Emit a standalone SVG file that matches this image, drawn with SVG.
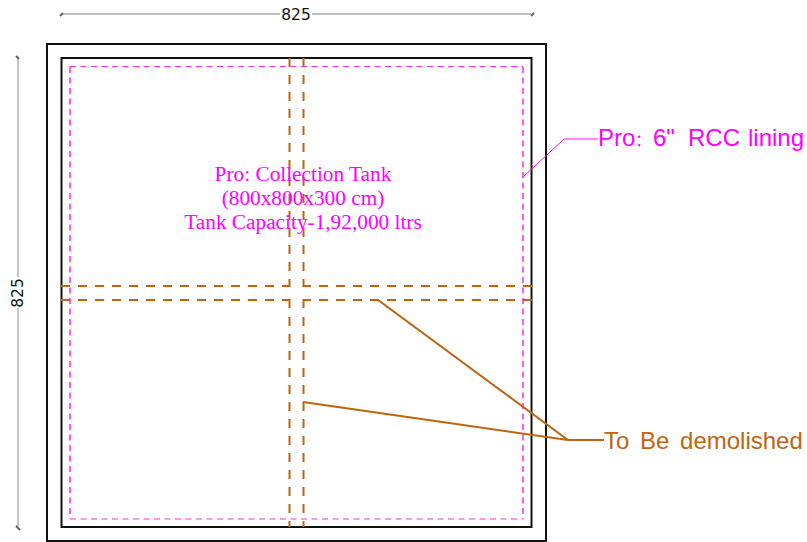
<svg xmlns="http://www.w3.org/2000/svg" width="807" height="542" viewBox="0 0 807 542">
<style>
.wall{fill:none;stroke:#111;stroke-width:2}
.dim{fill:none;stroke:#aaa;stroke-width:1.3}
.tick{fill:none;stroke:#666;stroke-width:2}
.lining-h{fill:none;stroke:#ff2cf0;stroke-width:1.2;stroke-dasharray:6 4.500}
.lining-v{fill:none;stroke:#ff5cf4;stroke-width:2;stroke-dasharray:6 4.500}
.demo{fill:none;stroke:#bf6410;stroke-width:2;stroke-dasharray:9 8}
.leadb{fill:none;stroke:#bf6410;stroke-width:2}
.leadm{fill:none;stroke:#ff14f0;stroke-width:1}
.dt{font-family:"DejaVu Sans",sans-serif;font-size:15.500px;fill:#111;text-anchor:middle}
.sans{font-family:"Liberation Sans","Noto Sans CJK SC",Arial,sans-serif;font-size:24px}
.serif{font-family:"Liberation Serif","Times New Roman",serif;font-size:21.300px;fill:#ff00ff;text-anchor:middle}
</style>
<rect width="807" height="542" fill="#fff"/>
<g id="tank-walls">
<rect class="wall" x="47" y="44" width="499" height="497"/>
<rect class="wall" x="61.500" y="58" width="470" height="469"/>
</g>
<g id="rcc-lining">
<path class="lining-h" d="M70 66.500H523M70 519H523"/>
<path class="lining-v" d="M70 67V519M523 67V519"/>
</g>
<g id="demolished-beams">
<path class="demo" d="M289.500 58V275M303.500 58V275M289.500 317V527M303.500 317V527"/>
<path class="demo" d="M61 286H278M61 300H278M319 286H532M319 300H532"/>
<path class="leadb" d="M282 286H289.500V279M303.500 279V286H311M282 300H289.500V308M303.500 308V300H311"/>
</g>
<g id="connectors">
<path class="leadm" d="M522 178L564 139H598"/>
<path class="leadb" d="M372 300H378L568 440H604M303 402L568 440"/>
</g>
<g id="dim-top">
<path class="dim" d="M62 14H280M312 14H531"/>
<path class="tick" d="M60 16L63 13M531 16L534 13"/>
<text class="dt" x="296" y="20">825</text>
</g>
<g id="dim-left">
<path class="dim" d="M18 58V277M18 308V527"/>
<path class="tick" d="M16 56L19 59M16 526L20 530"/>
<text class="dt" transform="translate(23 293) rotate(-90)">825</text>
</g>
<g id="label-lining"><text class="sans" x="598" y="146" fill="#ff00ff">Pro<tspan font-size="16">：</tspan><tspan x="653">6"</tspan> <tspan x="688">RCC</tspan> <tspan x="748">lining</tspan></text></g>
<g id="label-demolished"><text class="sans" x="604" y="449" fill="#bf6410" word-spacing="4">To Be demolished</text></g>
<g id="label-tank">
<text class="serif" x="303" y="181">Pro: Collection Tank</text>
<text class="serif" x="303" y="205">(800x800x300 cm)</text>
<text class="serif" x="303" y="229">Tank Capacity-1,92,000 ltrs</text>
</g>
</svg>
